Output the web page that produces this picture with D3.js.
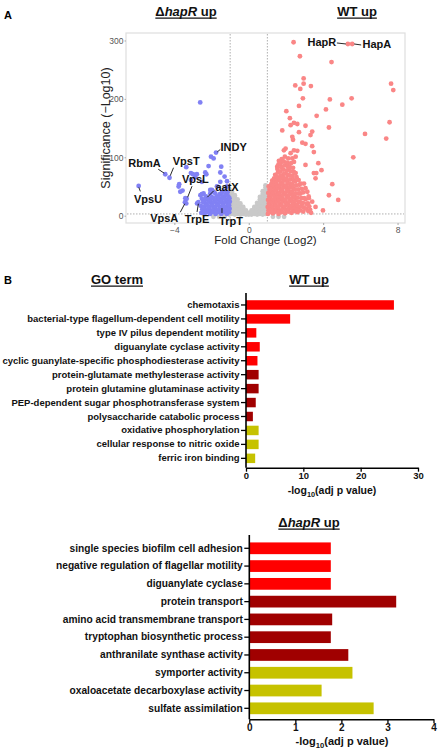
<!DOCTYPE html>
<html><head><meta charset="utf-8">
<script src="https://cdn.jsdelivr.net/npm/d3@7"></script>
<style>
body{margin:0;background:#fff;}
svg{display:block;font-family:"Liberation Sans",Arial,sans-serif;}
</style></head>
<body>
<svg id="c" width="438" height="750"></svg>
<script>
// ---------- DATA: Panel A (volcano) ----------
const volcanoXTicks = [-4, 0, 4, 8];
const volcanoYTicks = [0, 100, 200, 300];
const foldThresholds = [-1, 1];
const sigThreshold = 3;

const grayPoints = [
[-1.05,2],[-1.05,7],[-1.05,12],[-1.05,17],[-1.05,22],[-1.05,27],[-1.05,32],[-1.05,37],[-1.05,42],[-1.05,46],
[-0.9,3],[-0.9,8],[-0.9,13],[-0.9,18],[-0.9,23],[-0.9,28],[-0.9,33],[-0.9,38],[-0.9,41],
[-0.75,2],[-0.75,7],[-0.75,12],[-0.75,17],[-0.75,22],[-0.75,27],[-0.75,32],[-0.75,35],
[-0.6,3],[-0.6,8],[-0.6,13],[-0.6,18],[-0.6,23],[-0.6,28],
[-0.45,2],[-0.45,7],[-0.45,12],[-0.45,17],[-0.45,21],
[-0.3,3],[-0.3,8],[-0.3,13],[-0.3,15],
[-0.15,2],[-0.15,6],[-0.15,9],
[0,2],[0,5],
[0.15,2],[0.15,7],[0.15,9],
[0.3,3],[0.3,8],[0.3,13],[0.3,15],
[0.45,2],[0.45,7],[0.45,12],[0.45,17],[0.45,22],
[0.6,3],[0.6,8],[0.6,13],[0.6,18],[0.6,23],[0.6,28],[0.6,32],
[0.75,2],[0.75,7],[0.75,12],[0.75,17],[0.75,22],[0.75,27],[0.75,32],[0.75,37],[0.75,42],
[0.9,3],[0.9,8],[0.9,13],[0.9,18],[0.9,23],[0.9,28],[0.9,33],[0.9,38],[0.9,43],[0.9,48],[0.9,52],
[1.3,-2],[1.6,-2],[1.9,-2],[-1.3,-2],[-1.6,-2],[-1.9,-2]
];

const bluePoints = [
[-2.61,194],[-1.76,108],[-1.89,98],[-2.03,101],[-4.49,71],[-4.26,65],[-2.16,85],[-3.36,83],[-1.48,84],
[-2.34,74],[-2.88,66],[-3.11,61],[-3.11,73],[-3.0,71],[-2.79,71],[-1.53,74],[-1.17,59],[-5.92,51],
[-3.74,54],[-3.77,50],[-3.56,43],[-3.68,41],[-3.34,29],[-3.41,30],[-3.43,23],[-3.36,21],[-2.71,23],
[-2.78,21],[-2.07,44],[-2.52,37],[-1.44,13],[-2.6,35],[-2.43,38],[-2.07,38],[-1.8,38],[-1.98,44],
[-1.71,50],[-1.17,50],[-1.53,58],[-1.30,67],[-2.52,58],[-2.28,71],[-1.89,41],[-2.27,30],
[-2.55,5],[-2.5,11],[-2.58,17],[-2.45,23],[-2.52,29],
[-2.38,3],[-2.35,9],[-2.4,15],[-2.32,21],[-2.36,27],[-2.3,33],
[-2.22,6],[-2.18,12],[-2.25,18],[-2.15,24],[-2.2,30],
[-2.08,3],[-2.05,9],[-2.1,15],[-2.02,21],[-2.06,27],[-2.0,32],
[-1.92,6],[-1.88,12],[-1.95,18],[-1.86,24],[-1.9,30],
[-1.78,3],[-1.75,9],[-1.8,15],[-1.72,21],[-1.76,27],[-1.7,33],
[-1.62,6],[-1.58,12],[-1.65,18],[-1.56,24],[-1.6,30],[-1.55,37],
[-1.48,3],[-1.45,9],[-1.5,15],[-1.42,21],[-1.46,27],[-1.4,33],[-1.44,40],
[-1.32,6],[-1.28,12],[-1.35,18],[-1.26,24],[-1.3,30],[-1.24,36],[-1.28,43],
[-1.18,3],[-1.15,9],[-1.2,15],[-1.12,21],[-1.16,27],[-1.1,33],[-1.14,40],
[-1.05,6],[-1.03,12],[-1.06,18],[-1.02,24],[-1.04,30]
];

const redPoints = [
[2.41,297],[5.33,294],[5.56,294],[2.75,273],[4.45,263],[2.95,235],[2.50,223],[2.95,226],[2.77,217],
[3.34,222],[7.65,226],[7.77,215],[2.91,201],[4.36,199],[5.53,201],[2.70,188],[5.03,190],[4.15,182],
[2.02,179],[2.21,167],[3.65,171],[7.57,160],[2.43,159],[2.61,157],[2.25,155],[3.05,154],[4.31,151],
[1.80,146],[2.70,143],[3.41,144],[3.32,138],[6.25,140],[2.34,135],[7.39,132],[2.38,130],[2.88,125],
[3.05,123],[3.41,119],[1.98,115],[1.89,112],[2.43,112],[2.61,111],[2.25,107],[3.50,109],[2.52,101],
[5.62,100],[2.34,98],[1.62,94],[2.43,92],[3.74,90],[3.05,87],[3.91,78],[3.50,73],[3.63,73],[3.59,64],
[4.49,54],[4.31,35],[4.81,27],[3.99,9],[1.53,84],[2.07,87],[2.16,81],[2.97,55],[3.05,47],[3.15,41],
[3.23,30],[3.41,24],[3.59,15],[2.88,21],[3.3,10],[2.52,15],[3.22,33],[3.18,21],
[1.03,3],[1.06,9],[1.02,15],[1.08,21],[1.04,27],[1.1,33],[1.05,39],[1.12,45],[1.07,50],
[1.15,6],[1.18,12],[1.14,18],[1.2,24],[1.16,30],[1.22,36],[1.19,42],[1.24,48],[1.21,54],[1.26,60],
[1.3,4],[1.33,10],[1.29,16],[1.35,22],[1.31,28],[1.37,34],[1.32,40],[1.38,46],[1.34,52],[1.4,58],
[1.36,64],[1.42,70],[1.45,7],[1.48,13],[1.44,19],[1.5,25],[1.46,31],[1.52,37],[1.47,43],[1.53,49],
[1.49,55],[1.55,61],[1.51,67],[1.57,74],[1.54,80],[1.6,88],
[1.6,3],[1.63,9],[1.59,15],[1.65,21],[1.62,27],[1.68,33],[1.64,39],[1.7,45],[1.66,51],[1.72,57],
[1.67,63],[1.73,69],[1.69,76],[1.75,83],[1.71,90],[1.77,97],[1.78,6],[1.81,12],[1.76,18],[1.83,24],
[1.79,30],[1.85,36],[1.8,42],[1.86,48],[1.82,54],[1.88,60],[1.84,66],[1.9,72],[1.86,79],[1.92,86],
[1.88,93],[1.94,101],
[1.95,4],[1.98,10],[1.94,16],[2.0,22],[1.96,28],[2.03,34],[1.99,40],[2.05,46],[2.01,52],[2.07,58],
[2.02,64],[2.08,70],[2.04,77],[2.1,84],[2.06,91],[2.12,98],[2.13,7],[2.16,13],[2.11,19],[2.18,25],
[2.14,31],[2.2,37],[2.15,43],[2.22,49],[2.17,55],[2.23,62],[2.19,69],[2.25,76],[2.21,83],[2.27,90],
[2.3,5],[2.33,11],[2.28,17],[2.35,23],[2.31,29],[2.37,35],[2.32,41],[2.39,47],[2.34,54],[2.4,61],
[2.36,68],[2.42,75],[2.38,82],[2.46,8],[2.49,14],[2.44,20],[2.51,26],[2.47,32],[2.53,38],[2.48,45],
[2.55,52],[2.5,59],[2.57,66],[2.52,73],
[2.62,6],[2.65,12],[2.6,18],[2.67,24],[2.63,31],[2.7,38],[2.66,45],[2.72,53],[2.68,61],[2.78,9],
[2.81,16],[2.76,23],[2.83,30],[2.79,38],[2.85,46],[2.8,55],
[2.93,7],[2.96,14],[2.91,22],[2.98,30],[2.94,40],[3.08,12],[3.12,20],[3.06,28],[3.2,8],[3.25,16],[3.35,5]
];

const geneNames  = ["HapR","HapA","RbmA","VpsT","INDY","VpsL","aatX","VpsU","VpsA","TrpE","TrpT"];
const geneFold   = [5.33, 5.56, -4.49, -4.26, -1.76, -3.34, -2.28, -5.92, -3.43, -2.71, -1.44];
const geneSig    = [294, 294, 71, 65, 108, 29, 30, 51, 23, 23, 13];

// ---------- DATA: Panel B ----------
const wtTerms = ["chemotaxis","bacterial-type flagellum-dependent cell motility","type IV pilus dependent motility",
"diguanylate cyclase activity","cyclic guanylate-specific phosphodiesterase activity",
"protein-glutamate methylesterase activity","protein glutamine glutaminase activity",
"PEP-dependent sugar phosphotransferase system","polysaccharide catabolic process",
"oxidative phosphorylation","cellular response to nitric oxide","ferric iron binding"];
const wtValues = [25.8, 7.7, 1.8, 2.4, 2.0, 2.2, 2.2, 1.7, 1.2, 2.2, 2.2, 1.6];
const wtGroups = [0,0,0,0,0,1,1,1,1,2,2,2];
const wtTicks = [0, 10, 20, 30];

const hapTerms = ["single species biofilm cell adhesion","negative regulation of flagellar motility",
"diguanylate cyclase","protein transport","amino acid transmembrane transport",
"tryptophan biosynthetic process","anthranilate synthase activity","symporter activity",
"oxaloacetate decarboxylase activity","sulfate assimilation"];
const hapValues = [1.77, 1.77, 1.77, 3.19, 1.80, 1.77, 2.15, 2.24, 1.57, 2.70];
const hapGroups = [0,0,0,1,1,1,1,2,2,2];
const hapTicks = [0, 1, 2, 3, 4];

const groupColors = ["#ff0000", "#a00000", "#c6c200"];

// ---------- DRAW ----------
const svg = d3.select("#c");

function title(x, y, parts, size) {
  const t = svg.append("text").attr("x", x).attr("y", y).attr("text-anchor", "middle")
    .attr("font-size", size).attr("font-weight", "bold").attr("fill", "#111");
  parts.forEach(p => t.append("tspan").text(p.t).attr("font-style", p.i ? "italic" : "normal"));
  const w = t.node().getComputedTextLength();
  svg.append("line").attr("x1", x - w/2).attr("x2", x + w/2).attr("y1", y + 2.2).attr("y2", y + 2.2)
    .attr("stroke", "#111").attr("stroke-width", 1.3);
}

// Panel letters
svg.append("text").attr("x", 4).attr("y", 19).attr("font-size", 11).attr("font-weight", "bold").text("A");
svg.append("text").attr("x", 4).attr("y", 284).attr("font-size", 11).attr("font-weight", "bold").text("B");

title(186, 16, [{t:"Δ"},{t:"hapR",i:true},{t:" up"}], 13);
title(357, 16, [{t:"WT up"}], 13);

// Volcano
const vx = d3.scaleLinear().domain([-6.6, 8.4]).range([126, 405]);
const vy = d3.scaleLinear().domain([-12.5, 312.8]).range([223, 33]);

svg.append("rect").attr("x", 126).attr("y", 33).attr("width", 279).attr("height", 190)
  .attr("fill", "#fff").attr("stroke", "#dedede").attr("stroke-width", 1.2);

foldThresholds.forEach(f => svg.append("line").attr("x1", vx(f)).attr("x2", vx(f))
  .attr("y1", 34).attr("y2", 222).attr("stroke", "#9a9a9a").attr("stroke-width", 0.8)
  .attr("stroke-dasharray", "1.5,1.5"));
svg.append("line").attr("x1", 127).attr("x2", 404).attr("y1", vy(sigThreshold)).attr("y2", vy(sigThreshold))
  .attr("stroke", "#9a9a9a").attr("stroke-width", 0.8).attr("stroke-dasharray", "1.5,1.5");

const xAxisA = svg.append("g").attr("transform", "translate(0,223)")
  .call(d3.axisBottom(vx).tickValues(volcanoXTicks).tickSize(2).tickPadding(2));
const yAxisA = svg.append("g").attr("transform", "translate(126,0)")
  .call(d3.axisLeft(vy).tickValues(volcanoYTicks).tickSize(1.5).tickPadding(1));
[xAxisA, yAxisA].forEach(g => {
  g.select(".domain").remove();
  g.selectAll(".tick line").attr("stroke", "#aaa");
  g.selectAll(".tick text").attr("fill", "#555").attr("font-size", 8.5)
    .attr("font-family", "Liberation Sans, Arial, sans-serif");
});

svg.append("text").attr("x", 265.5).attr("y", 244).attr("text-anchor", "middle")
  .attr("font-size", 11.5).attr("fill", "#222").text("Fold Change (Log2)");
svg.append("text").attr("transform", "translate(110,128) rotate(-90)").attr("text-anchor", "middle")
  .attr("font-size", 12.5).attr("fill", "#222").text("Significance (\u2212Log10)");

const dots = svg.append("g");
function drawDots(data, color) {
  dots.selectAll(null).data(data).join("circle")
    .attr("cx", d => vx(d[0])).attr("cy", d => vy(d[1])).attr("r", 2.4).attr("fill", color);
}
drawDots(grayPoints, "#c9c9c9");
drawDots(bluePoints, "#8181f4");
drawDots(redPoints, "#fa8686");

// gene labels: text center offsets (px) and leader line endpoints relative to point
const labelLayout = {
  HapR: {tx:-26, ty:-2.3, l:[-11,-1,-2,0]},
  HapA: {tx: 24.7, ty: 0.3, l:[2,0,9,1]},
  RbmA: {tx:-20.7, ty:-11.3, l:[-7,-5,-1,-1]},
  VpsT: {tx: 16.7, ty:-17, l:[4,-10,0.7,-2]},
  INDY: {tx: 17.6, ty:-5.4, l:[4.3,-3.2,1.3,-0.7]},
  VpsL: {tx: 8.7, ty:-19.3, l:[5.4,-12.6,1,-1.5]},
  aatX: {tx: 20.7, ty:-11.6, l:[7.3,-7.3,1,-1]},
  VpsU: {tx: 9.4, ty: 13.3, l:[1.7,5.5,0.2,1.5]},
  VpsA: {tx:-20.7, ty: 15.3, l:[-4.7,10,-0.2,1.5]},
  TrpE: {tx:-1.3, ty: 17, l:[-1.3,9.7,0,1.5]},
  TrpT: {tx: 9, ty: 12.4, l:[0,0,0,5]}
};
const lab = svg.append("g");
geneNames.forEach((n, i) => {
  const px = vx(geneFold[i]), py = vy(geneSig[i]), L = labelLayout[n];
  lab.append("line").attr("x1", px + L.l[0]).attr("y1", py + L.l[1]).attr("x2", px + L.l[2]).attr("y2", py + L.l[3])
    .attr("stroke", "#111").attr("stroke-width", 0.9);
  lab.append("text").attr("x", px + L.tx).attr("y", py + L.ty).attr("text-anchor", "middle")
    .attr("dominant-baseline", "central").attr("font-size", 11).attr("font-weight", "bold")
    .attr("fill", "#111").text(n);
});

// Panel B titles
title(117, 284, [{t:"GO term"}], 13);
title(309, 284, [{t:"WT up"}], 13);
title(309, 527, [{t:"Δ"},{t:"hapR",i:true},{t:" up"}], 13);

function barChart(terms, values, groups, ticks, cfg) {
  const x = d3.scaleLinear().domain([0, ticks[ticks.length-1]]).range([cfg.x0, cfg.x1]);
  const y = d3.scaleBand().domain(terms).range([cfg.yTop, cfg.yBot]).padding(0);
  const h = y.bandwidth() * cfg.barFrac;
  const g = svg.append("g");
  g.selectAll("rect").data(terms).join("rect")
    .attr("x", x(0)).attr("y", d => y(d) + (y.bandwidth() - h) / 2)
    .attr("width", (d, i) => x(values[i]) - x(0)).attr("height", h)
    .attr("fill", (d, i) => groupColors[groups[i]]);
  const ya = g.append("g").attr("transform", `translate(${cfg.x0},0)`)
    .call(d3.axisLeft(y).tickSize(5).tickPadding(1.5).tickSizeOuter(0));
  ya.select(".domain").attr("d", `M0,${cfg.axTop}V${cfg.axBot}`).attr("stroke-width", 1.6);
  ya.selectAll(".tick line").attr("stroke-width", 1.3);
  ya.selectAll(".tick text").attr("font-size", cfg.fs).attr("font-weight", "bold").attr("fill", "#111")
    .attr("font-family", "Liberation Sans, Arial, sans-serif");
  const xa = g.append("g").attr("transform", `translate(0,${cfg.axBot})`)
    .call(d3.axisBottom(x).tickValues(ticks).tickFormat(d3.format("d")).tickSize(4).tickPadding(1).tickSizeOuter(0));
  xa.select(".domain").attr("stroke-width", 1.6);
  xa.selectAll(".tick line").attr("stroke-width", 1.3);
  xa.selectAll(".tick text").attr("font-size", cfg.tfs).attr("font-weight", "bold").attr("fill", "#111")
    .attr("font-family", "Liberation Sans, Arial, sans-serif");
  const t = svg.append("text").attr("x", cfg.titleX).attr("y", cfg.titleY).attr("text-anchor", "middle")
    .attr("font-size", cfg.titleFs).attr("font-weight", "bold").attr("fill", "#111");
  t.append("tspan").text("-log");
  t.append("tspan").text("10").attr("font-size", cfg.titleFs * 0.7).attr("dy", 2.5);
  t.append("tspan").text("(adj p value)").attr("dy", -2.5);
}

barChart(wtTerms, wtValues, wtGroups, wtTicks, {
  x0: 246, x1: 418, yTop: 298.0, yBot: 465.3, barFrac: 0.68, axTop: 293, axBot: 467.7,
  fs: 9.5, tfs: 9.5, titleX: 332, titleY: 494, titleFs: 10.5
});
barChart(hapTerms, hapValues, hapGroups, hapTicks, {
  x0: 249.3, x1: 433.5, yTop: 539.4, yBot: 717.2, barFrac: 0.66, axTop: 535, axBot: 719.3,
  fs: 10.2, tfs: 10, titleX: 342, titleY: 745, titleFs: 11
});
</script>
</body></html>
